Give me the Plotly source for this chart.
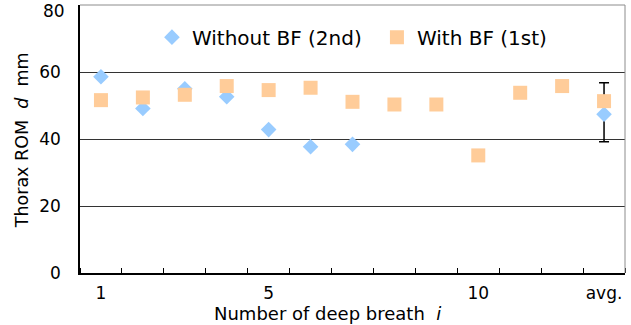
import plotly.graph_objects as go

breath = list(range(1, 14))
tick_pos = [1, 5, 10, 13]
tick_text = ["1", "5", "10", "avg."]
y_ticks = [0, 20, 40, 60]
y_top = 80

without_bf = [58.6, 49.1, 55.0, 52.6, 42.8, 37.7, 38.4, None, None, None, None, None, 47.4]
without_err_plus = [0] * 12 + [9.4]
without_err_minus = [0] * 12 + [8.2]
with_bf = [51.6, 52.4, 53.2, 55.8, 54.6, 55.3, 51.1, 50.3, 50.3, 35.1, 53.8, 55.8, 51.3]

x_title = "Number of deep breath\u00a0\u00a0<i>i</i>"
y_title = "Thorax ROM\u00a0\u00a0<i>d</i>\u00a0\u00a0mm"

FONT = "DejaVu Sans"

fig = go.Figure()
fig.add_trace(go.Scatter(
    x=breath, y=without_bf, mode="markers", name="Without BF (2nd)",
    marker=dict(symbol="diamond", size=12, color="#99CCFF", line=dict(width=0)),
    error_y=dict(type="data", symmetric=False, array=without_err_plus,
                 arrayminus=without_err_minus, color="black", thickness=1.5, width=5),
))
fig.add_trace(go.Scatter(
    x=breath, y=with_bf, mode="markers", name="With BF (1st)",
    marker=dict(symbol="square", size=14, color="#FFCC99", line=dict(width=0)),
))

fig.update_layout(
    width=631, height=325,
    margin=dict(l=80, r=6, t=5, b=52),
    paper_bgcolor="white", plot_bgcolor="white",
    font=dict(family=FONT, size=17, color="black"),
    showlegend=True,
    legend=dict(orientation="h", x=0.132, y=0.88, xanchor="left", yanchor="middle",
                font=dict(size=20, family=FONT), bgcolor="rgba(0,0,0,0)",
                itemwidth=30, entrywidth=180, entrywidthmode="pixels"),
    shapes=[
        dict(type="line", xref="paper", yref="paper", x0=0, x1=1, y0=1, y1=1,
             line=dict(color="#8c8c8c", width=1), layer="above"),
        dict(type="line", xref="paper", yref="paper", x0=1, x1=1, y0=0, y1=1,
             line=dict(color="#8c8c8c", width=1), layer="above"),
    ],
    annotations=[
        dict(text=x_title, xref="paper", yref="paper", x=0.455, y=-0.152,
             xanchor="center", yanchor="middle", showarrow=False, font=dict(size=18)),
        dict(text=y_title, xref="paper", yref="paper", x=-0.106, y=0.496, textangle=-90,
             xanchor="center", yanchor="middle", showarrow=False, font=dict(size=17.5)),
        dict(text=str(y_top), xref="paper", yref="y", x=0, y=y_top, xanchor="right",
             yanchor="top", xshift=-13, yshift=6, showarrow=False, font=dict(size=17)),
    ],
)

fig.update_xaxes(
    range=[0.5, 13.5], tickmode="array", tickvals=tick_pos, ticktext=tick_text,
    ticks="", showgrid=False, zeroline=False, automargin=False,
    showline=True, linecolor="black", linewidth=1.5,
    ticklabelstandoff=4,
    minor=dict(tick0=0.5, dtick=1, ticks="inside", ticklen=5, tickcolor="black", tickwidth=1, showgrid=False),
)
fig.update_yaxes(
    range=[0, y_top], tickmode="array", tickvals=y_ticks,
    ticks="", showgrid=True, gridcolor="#333333", gridwidth=1, zeroline=False, automargin=False,
    showline=True, linecolor="black", linewidth=1.5,
    ticklabelstandoff=14,
)

fig.write_html("out.html", config={"displayModeBar": False},
               post_script="document.body.style.margin='0';")
